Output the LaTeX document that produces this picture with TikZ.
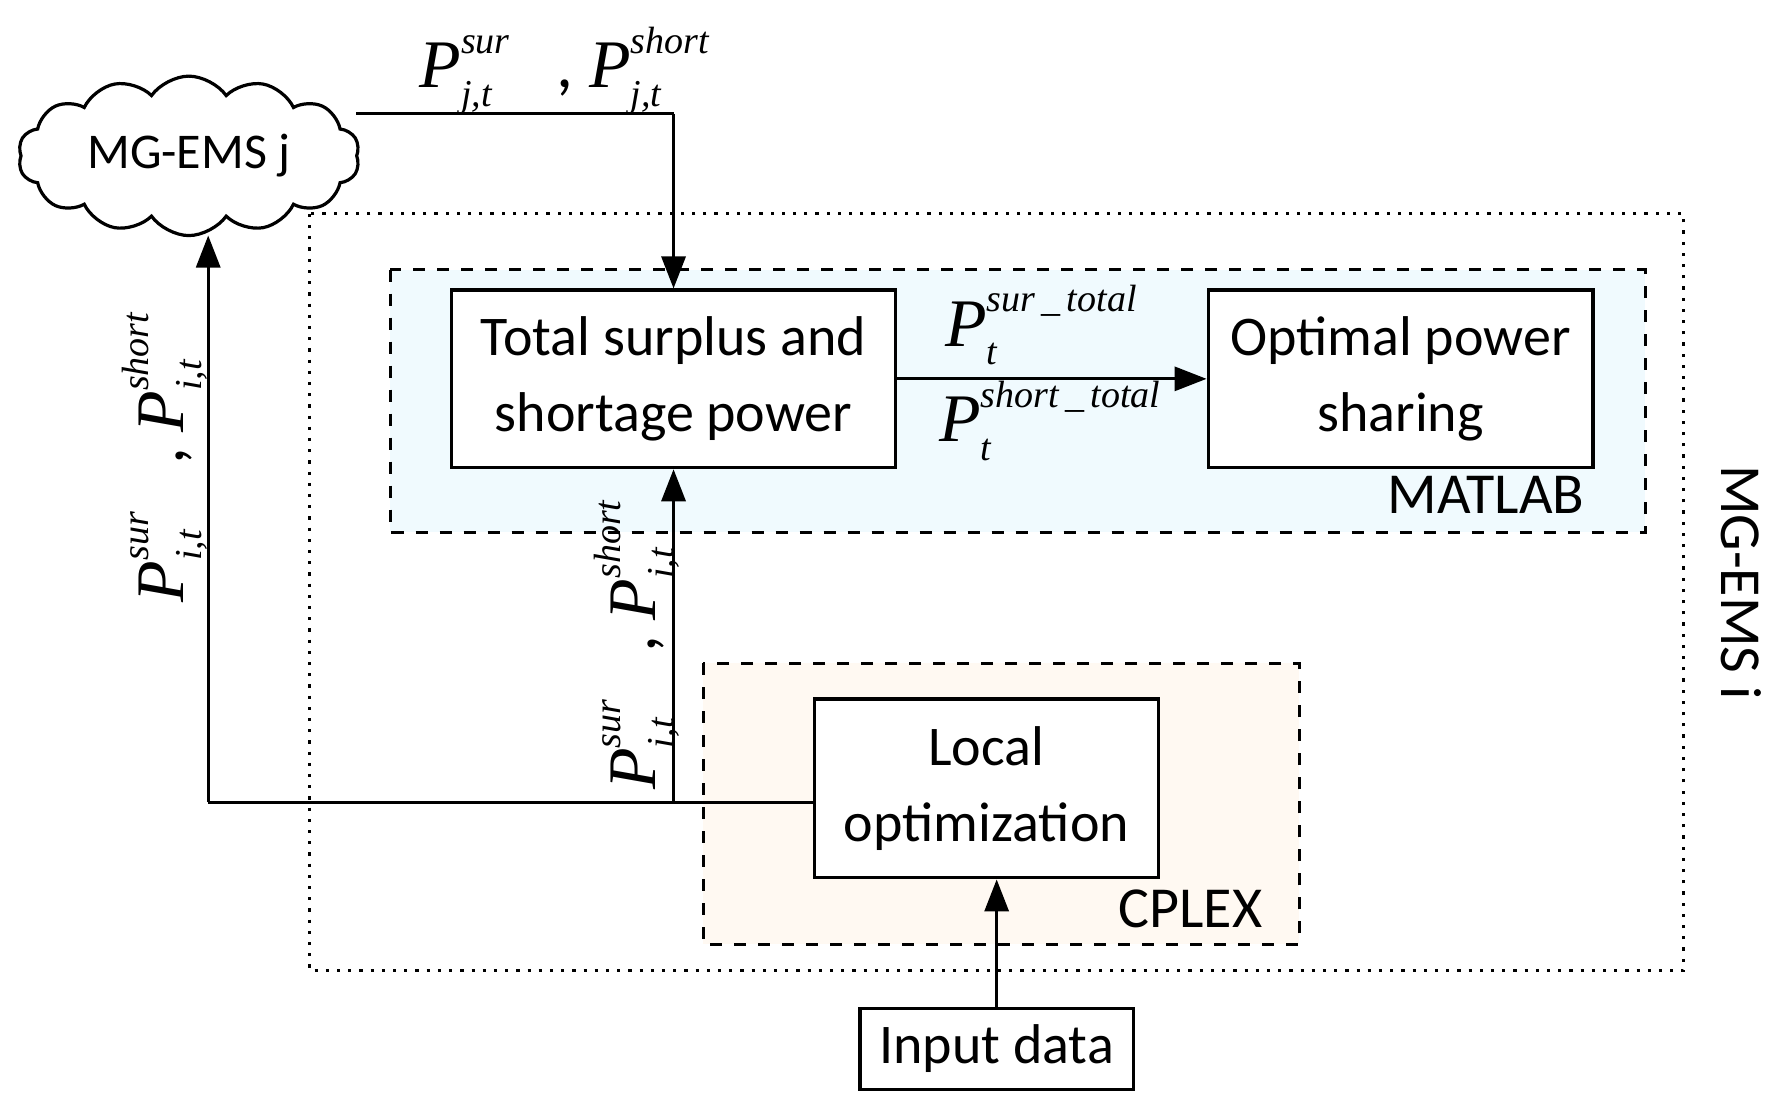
\documentclass[tikz,border=0pt]{standalone}
\usepackage{fontspec}
\setmainfont{Carlito}
\newfontfamily\tms{Liberation Serif}
\usetikzlibrary{shapes.symbols,arrows.meta}
\newcommand{\PP}[2]{{\tms\itshape P\rlap{\raisebox{1.1ex}{\fontsize{9.5}{10}\selectfont #1}}\raisebox{-0.6ex}{\fontsize{9.5}{10}\selectfont #2}\hspace{1pt}}}
\begin{document}
\begin{tikzpicture}[x=0.01cm,y=-0.01cm,
  box/.style={draw,thick,fill=white,align=center,font=\fontsize{14}{19}\selectfont,inner sep=0},
  arr/.style={-{Triangle[length=8pt,width=6pt]},thick},
  ln/.style={thick},
  lab/.style={font=\fontsize{14.5}{17}\selectfont},
  pl/.style={font=\fontsize{17}{17}\selectfont,inner sep=0}]
\useasboundingbox (0,0) rectangle (1568,980);
\draw[dotted,thick] (272,188) rectangle (1480,853);
\draw[dashed,thick,fill=cyan!6] (343,237) rectangle (1446,468);
\draw[dashed,thick,fill=orange!5] (618,583) rectangle (1142,830);
\node[lab,anchor=south east] at (1405,464) {MATLAB};
\node[lab,anchor=south east] at (1122,828) {CPLEX};
\node[lab,rotate=-90] at (1530,512) {MG-EMS i};
\node[cloud,draw,thick,cloud puffs=14,cloud puff arc=110,aspect=2.6,minimum width=3cm,minimum height=1.1cm,font=\fontsize{12.5}{15}\selectfont] (cl) at (166,137) {MG-EMS j};
\node[box,minimum width=3.9cm,minimum height=1.56cm] (tot) at (592,333) {Total surplus and\\shortage power};
\node[box,minimum width=3.38cm,minimum height=1.56cm] (opt) at (1231,333) {Optimal power\\sharing};
\node[box,minimum width=3.02cm,minimum height=1.57cm] (loc) at (867,693) {Local\\optimization};
\node[box,minimum width=2.4cm,minimum height=0.71cm] (inp) at (876,922) {Input data};
\draw[arr] (tot.east) -- (opt.west);
\node[pl,anchor=west] at (830,286) {\PP{sur\,\_\,total}{t}};
\node[pl,anchor=west] at (825,370) {\PP{short\,\_\,total}{t}};
\draw[arr] (inp.north) -- (inp.north |- loc.south);
\coordinate (br) at (592,705);
\coordinate (lc) at (183,705);
\coordinate (cb) at (183,207);
\coordinate (cr) at (313,100);
\coordinate (tc) at (592,100);
\draw[ln] (loc.west |- br) -- (lc);
\draw[arr] (lc) -- (cb);
\draw[arr] (br) -- (tot.south);
\draw[ln] (cr) -- (tc);
\draw[arr] (tc) -- (tot.north);
\node[pl,anchor=west] at (368,62) {\PP{sur}{j,t}\hspace{0.9em}, \PP{short}{j,t}};
\node[pl,rotate=90,anchor=west] at (145,530) {\PP{sur}{i,t}\hspace{0.9em}, \PP{short}{i,t}};
\node[pl,rotate=90,anchor=west] at (560,695) {\PP{sur}{i,t}\hspace{0.9em}, \PP{short}{i,t}};
\end{tikzpicture}
\end{document}
